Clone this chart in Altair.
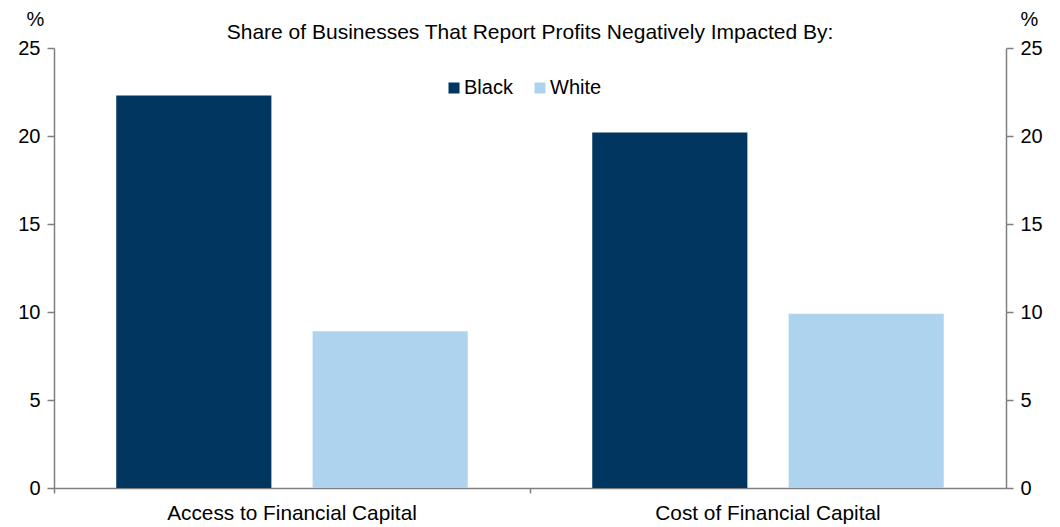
import altair as alt
import pandas as pd

categories = ["Access to Financial Capital", "Cost of Financial Capital"]
groups = ["Black", "White"]
black_vals = [22.3, 20.2]
white_vals = [8.9, 9.9]
colors = ["#00365F", "#ADD3EF"]
y_ticks = [0, 5, 10, 15, 20, 25]

rows = []
for c, b, w in zip(categories, black_vals, white_vals):
    rows.append({"category": c, "group": "Black", "value": b})
    rows.append({"category": c, "group": "White", "value": w})
df = pd.DataFrame(rows)

FONT = "Liberation Sans"
AX = "#7f7f7f"
FS = 20

x_enc = alt.X(
    "category:N", sort=categories, title=None,
    scale=alt.Scale(paddingInner=0, paddingOuter=0),
    axis=alt.Axis(labelAngle=0, bandPosition=0, domainColor=AX, tickColor=AX,
                  tickSize=5, labelPadding=10, labelFontSize=20.8, labelColor="#000",
                  labelFont=FONT, labelLimit=0, domainWidth=1.5, tickWidth=1.5),
)
xo_enc = alt.XOffset("group:N", sort=groups,
                     scale=alt.Scale(paddingInner=0.21, paddingOuter=0.317))

def yaxis(orient, tx):
    return alt.Axis(orient=orient, values=y_ticks, grid=False, title="%",
                    titleAngle=0, titleX=tx, titleY=-29, titleAlign="center",
                    titleBaseline="middle", titleFontSize=FS,
                    titleFontWeight="normal", titleFont=FONT, titleColor="#000",
                    domainColor=AX, tickColor=AX, tickSize=7, labelPadding=7,
                    labelFontSize=FS, labelFont=FONT, labelColor="#000",
                    domainWidth=1.5, tickWidth=1.5)

yscale = alt.Scale(domain=[0, 25], nice=False)

bars = alt.Chart(df).mark_bar().encode(
    x=x_enc,
    xOffset=xo_enc,
    y=alt.Y("value:Q", scale=yscale, axis=yaxis("left", -19)),
    color=alt.Color("group:N", sort=groups, scale=alt.Scale(domain=groups, range=colors),
                    legend=alt.Legend(title=None, orient="none", legendX=390, legendY=30,
                                      direction="horizontal", symbolType="square",
                                      symbolSize=121, symbolStrokeWidth=0, labelFontSize=FS,
                                      labelFont=FONT, labelColor="#000", columnPadding=17,
                                      labelOffset=0)),
)

right = alt.Chart(df).mark_bar(opacity=0).encode(
    x=x_enc,
    xOffset=xo_enc,
    y=alt.Y("value:Q", scale=yscale, axis=yaxis("right", 23)),
)

chart = alt.layer(bars, right).resolve_scale(y="independent").properties(
    width=952, height=440,
    title=alt.TitleParams("Share of Businesses That Report Profits Negatively Impacted By:",
                          anchor="middle", fontSize=21, fontWeight="normal", font=FONT,
                          color="#000", offset=0, baseline="alphabetic", frame="group",
                          dy=51),
    padding={"left": 46, "top": 40, "right": 40, "bottom": 40},
    autosize=alt.AutoSizeParams(type="none"),
).configure_view(stroke=None)

chart.save("out.html", embed_options={"renderer": "svg", "actions": False})
